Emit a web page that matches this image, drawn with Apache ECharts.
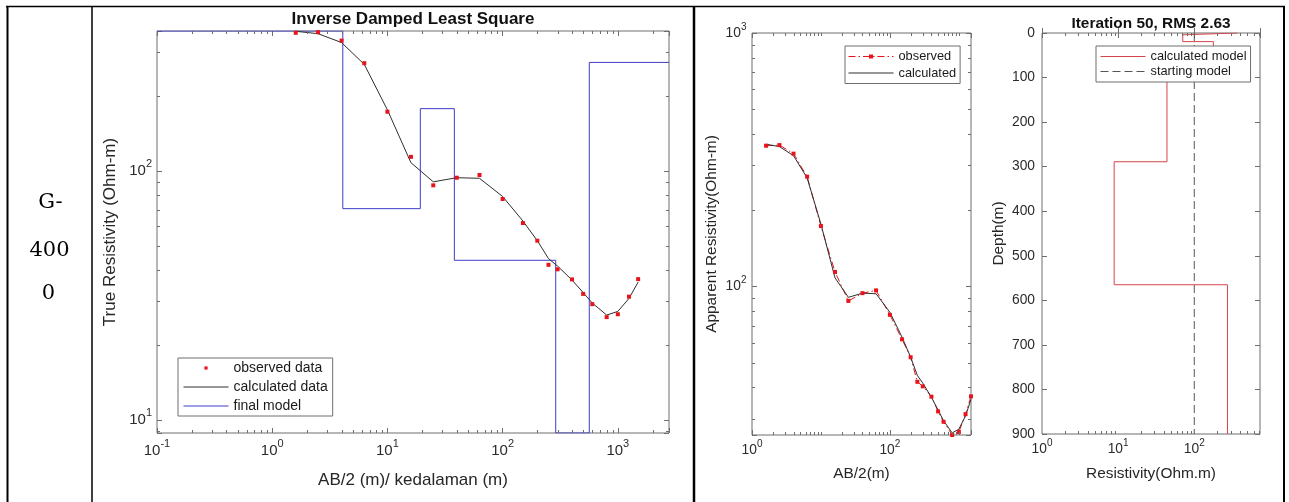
<!DOCTYPE html>
<html>
<head>
<meta charset="utf-8">
<title>G-4000</title>
<script src="https://cdn.jsdelivr.net/npm/echarts@6/dist/echarts.min.js"></script>
<style>html,body{margin:0;padding:0;background:#fff;}</style>
</head>
<body>
<div id="main" style="width:1289px;height:502px;"></div>
<script>
// sounding data
var ab2 = [1.6, 2.5, 4, 6.3, 10, 16, 25, 40, 63, 100, 150, 200, 250, 300, 400, 500, 600, 800, 1000, 1250, 1500];
var rhoObs = [359, 361, 334, 271, 173, 114, 87.6, 94, 96.4, 77.2, 61.8, 52.5, 42, 40.3, 36.7, 32.1, 29.2, 25.9, 26.6, 31.3, 36.8];
var rhoCalc = [364, 356, 328, 268, 176, 108, 90.5, 94, 93.5, 79, 63, 52.5, 44.5, 41.5, 36.5, 32.5, 29.5, 26.4, 27.3, 30.8, 35.8];

// final layered model
var layerRho = [365, 70.6, 178, 43.8, 8.87, 273];
var layerBottom = [4.1, 19.3, 38.1, 289, 565];
var startRho = 100;

// axis ranges and labelled ticks
var c1X = [0.1, 2780], c1Y = [8.87, 365];
var c2X = [1, 1500], c2Y = [25.9, 1000];
var c3X = [1, 730], c3Y = [0, 900];
var c1XTicks = [0.1, 1, 10, 100, 1000], c1YTicks = [10, 100];
var c2XTicks = [1, 100], c2YTicks = [100, 1000];
var c3XTicks = [1, 10, 100];

var FONT = "'Liberation Sans', Arial, Helvetica, sans-serif";
var AXIS = '#6e6e6e';
var LABEL = '#2b2b2b';
var RED = '#e8141c';
var BLUE = '#3c3cc8';
var BLACK = '#2e2e2e';

function zip(a, b) {
    var out = [];
    for (var i = 0; i < a.length; i++) out.push([a[i], b[i]]);
    return out;
}

function isOneOf(v, list) {
    for (var i = 0; i < list.length; i++) {
        if (Math.abs(v / list[i] - 1) < 1e-6) return true;
    }
    return false;
}

// 2..9 x 10^k marks between the labelled decades
function minorTicks(range, majors) {
    var out = [];
    for (var k = Math.floor(Math.log10(range[0])); k <= Math.ceil(Math.log10(range[1])); k++) {
        for (var m = 1; m <= 9; m++) {
            var v = m * Math.pow(10, k);
            if (v > range[0] * 1.0001 && v < range[1] * 0.9999 && !isOneOf(v, majors)) out.push(v);
        }
    }
    return out;
}

function powFormatter(list) {
    return function (v) {
        if (!isOneOf(v, list)) return '';
        return '{b|10}{s|' + Math.round(Math.log10(v)) + '}';
    };
}

function powRich(fs, ss, lift) {
    return {
        b: {fontSize: fs, lineHeight: fs, verticalAlign: 'bottom', color: LABEL, fontFamily: FONT},
        s: {fontSize: ss, lineHeight: ss, padding: [0, 0, lift, 0], verticalAlign: 'bottom', color: LABEL, fontFamily: FONT}
    };
}

function axis(o) {
    var a = {
        gridIndex: o.grid,
        type: o.type,
        position: o.pos,
        min: o.range[0],
        max: o.range[1],
        inverse: !!o.inverse,
        axisLine: {show: false},
        axisTick: {show: true, inside: true, length: 5, lineStyle: {color: AXIS, width: 1}},
        splitLine: {show: false},
        axisLabel: {show: false}
    };
    if (o.interval) a.interval = o.interval;
    if (o.labels) {
        a.axisLabel = {
            show: true,
            margin: o.margin,
            formatter: o.labels === 'plain' ? '{value}' : powFormatter(o.labels),
            rich: o.labels === 'plain' ? undefined : powRich(o.fs, o.ss, o.lift),
            fontSize: o.fs,
            color: LABEL,
            fontFamily: FONT,
            showMinLabel: true,
            showMaxLabel: true
        };
    }
    if (o.name) {
        a.name = o.name;
        a.nameLocation = 'middle';
        a.nameGap = o.nameGap;
        a.nameTextStyle = {fontSize: o.nameSize, color: '#262626', fontFamily: FONT};
    }
    return a;
}

// short inside marks for the minor ticks, placed through the axes
function minorSeries(xi, yi, xTicks, yTicks, xRef, yRef) {
    var data = [];
    xTicks.forEach(function (v) { data.push([v, yRef, 0]); });
    yTicks.forEach(function (v) { data.push([xRef, v, 1]); });
    return {
        type: 'custom',
        xAxisIndex: xi,
        yAxisIndex: yi,
        silent: true,
        z: 3,
        data: data,
        renderItem: function (params, api) {
            var cs = params.coordSys;
            var p = api.coord([api.value(0), api.value(1)]);
            var st = {stroke: AXIS, lineWidth: 1};
            var len = 3;
            var s1, s2;
            if (api.value(2) === 0) {
                var x = Math.round(p[0]) + 0.5;
                s1 = {x1: x, y1: cs.y + cs.height, x2: x, y2: cs.y + cs.height - len};
                s2 = {x1: x, y1: cs.y, x2: x, y2: cs.y + len};
            } else {
                var y = Math.round(p[1]) + 0.5;
                s1 = {x1: cs.x, y1: y, x2: cs.x + len, y2: y};
                s2 = {x1: cs.x + cs.width, y1: y, x2: cs.x + cs.width - len, y2: y};
            }
            return {type: 'group', children: [
                {type: 'line', shape: s1, style: st},
                {type: 'line', shape: s2, style: st}
            ]};
        }
    };
}

// model as stairs
var model1 = [], model3 = [];
for (var i = 0; i < layerRho.length; i++) {
    var top1 = i === 0 ? c1X[0] : layerBottom[i - 1];
    var bot1 = i < layerBottom.length ? layerBottom[i] : c1X[1];
    model1.push([top1, layerRho[i]], [bot1, layerRho[i]]);
    var top3 = i === 0 ? c3Y[0] : layerBottom[i - 1];
    var bot3 = i < layerBottom.length ? layerBottom[i] : c3Y[1];
    model3.push([layerRho[i], top3], [layerRho[i], bot3]);
}

// legend entries that are plain lines: hide the marker in the middle
function lineOnly(name) {
    return {name: name, itemStyle: {opacity: 0}};
}

var myChart = echarts.init(document.getElementById('main'));

var legendBase = {
    orient: 'vertical',
    itemWidth: 45,
    borderColor: AXIS,
    borderWidth: 1,
    backgroundColor: '#fff',
    selectedMode: false,
    lineStyle: {width: 'inherit'},
    textStyle: {color: '#1a1a1a', fontFamily: FONT}
};

var option = {
    animation: false,
    backgroundColor: '#fff',
    title: [
        {text: 'Inverse Damped Least Square', left: 413, top: 10.5, textAlign: 'center', padding: 0,
            textStyle: {fontSize: 17, fontWeight: 'bold', color: '#111', fontFamily: FONT}},
        {text: 'Iteration 50, RMS 2.63', left: 1151, top: 16, textAlign: 'center', padding: 0,
            textStyle: {fontSize: 15.4, fontWeight: 'bold', color: '#111', fontFamily: FONT}}
    ],
    grid: [
        {left: 157, top: 31, width: 512, height: 402, show: true, borderColor: AXIS, borderWidth: 1},
        {left: 752, top: 33, width: 219, height: 402, show: true, borderColor: AXIS, borderWidth: 1},
        {left: 1042, top: 33, width: 218, height: 401, show: true, borderColor: AXIS, borderWidth: 1}
    ],
    legend: [
        Object.assign({}, legendBase, {
            data: ['observed data', lineOnly('calculated data'), lineOnly('final model')],
            left: 178, top: 358, padding: [3, 5, 3, 5], itemHeight: 4, itemGap: 5,
            textStyle: {color: '#1a1a1a', fontFamily: FONT, fontSize: 14}
        }),
        Object.assign({}, legendBase, {
            data: ['observed', lineOnly('calculated')],
            left: 845, top: 46, padding: [4, 4, 4, 3], itemHeight: 5, itemGap: 3.5,
            textStyle: {color: '#1a1a1a', fontFamily: FONT, fontSize: 12.8}
        }),
        Object.assign({}, legendBase, {
            data: [lineOnly('calculated model'), lineOnly('starting model')],
            left: 1096, top: 46, padding: [4, 4, 4, 4], itemHeight: 5, itemGap: 2,
            textStyle: {color: '#1a1a1a', fontFamily: FONT, fontSize: 12.8}
        })
    ],
    xAxis: [
        axis({grid: 0, type: 'log', pos: 'bottom', range: c1X, labels: c1XTicks, fs: 15, ss: 11, lift: 9, margin: 10,
            name: 'AB/2 (m)/ kedalaman (m)', nameGap: 38.5, nameSize: 17}),
        axis({grid: 0, type: 'log', pos: 'top', range: c1X}),
        axis({grid: 1, type: 'log', pos: 'bottom', range: c2X, interval: 2, labels: c2XTicks, fs: 13.8, ss: 10, lift: 8, margin: 8,
            name: 'AB/2(m)', nameGap: 31.3, nameSize: 15.4}),
        axis({grid: 1, type: 'log', pos: 'top', range: c2X, interval: 2}),
        axis({grid: 2, type: 'log', pos: 'bottom', range: c3X, labels: c3XTicks, fs: 13.8, ss: 10, lift: 8, margin: 8,
            name: 'Resistivity(Ohm.m)', nameGap: 32.3, nameSize: 15.4}),
        axis({grid: 2, type: 'log', pos: 'top', range: c3X})
    ],
    yAxis: [
        axis({grid: 0, type: 'log', pos: 'left', range: c1Y, labels: c1YTicks, fs: 15, ss: 11, lift: 9, margin: 5,
            name: 'True Resistivity (Ohm-m)', nameGap: 38.5, nameSize: 17}),
        axis({grid: 0, type: 'log', pos: 'right', range: c1Y}),
        axis({grid: 1, type: 'log', pos: 'left', range: c2Y, labels: c2YTicks, fs: 13.8, ss: 10, lift: 8, margin: 5.5,
            name: 'Apparent Resistivity(Ohm-m)', nameGap: 32.3, nameSize: 15.4}),
        axis({grid: 1, type: 'log', pos: 'right', range: c2Y}),
        axis({grid: 2, type: 'value', pos: 'left', range: c3Y, inverse: true, interval: 100, labels: 'plain', fs: 13.8, margin: 7,
            name: 'Depth(m)', nameGap: 35.3, nameSize: 15.4}),
        axis({grid: 2, type: 'value', pos: 'right', range: c3Y, inverse: true, interval: 100})
    ],
    series: [
        {name: 'final model', type: 'line', xAxisIndex: 0, yAxisIndex: 0, data: model1, symbol: 'none',
            lineStyle: {color: BLUE, width: 1}, itemStyle: {color: BLUE}, z: 2},
        {name: 'calculated data', type: 'line', xAxisIndex: 0, yAxisIndex: 0, data: zip(ab2, rhoCalc), symbol: 'none',
            lineStyle: {color: BLACK, width: 1}, itemStyle: {color: BLACK}, z: 2},
        {name: 'observed data', type: 'line', xAxisIndex: 0, yAxisIndex: 0, data: zip(ab2, rhoObs),
            symbol: 'rect', symbolSize: 4, lineStyle: {width: 0}, itemStyle: {color: RED}, z: 4},

        {name: 'observed', type: 'line', xAxisIndex: 2, yAxisIndex: 2, data: zip(ab2, rhoObs),
            symbol: 'rect', symbolSize: 4, lineStyle: {color: RED, width: 1, type: [7, 3, 1.5, 3]}, itemStyle: {color: RED}, z: 2},
        {name: 'calculated', type: 'line', xAxisIndex: 2, yAxisIndex: 2, data: zip(ab2, rhoCalc), symbol: 'none',
            lineStyle: {color: BLACK, width: 1}, itemStyle: {color: BLACK}, z: 2},

        {name: 'calculated model', type: 'line', xAxisIndex: 4, yAxisIndex: 4, data: model3, symbol: 'none',
            lineStyle: {color: '#d6454b', width: 1}, itemStyle: {color: '#d6454b'}, z: 2},
        {name: 'starting model', type: 'line', xAxisIndex: 4, yAxisIndex: 4, data: [[startRho, c3Y[0]], [startRho, c3Y[1]]],
            symbol: 'none', lineStyle: {color: '#555', width: 1, type: [8, 4]}, itemStyle: {color: '#555'}, z: 2},

        minorSeries(0, 0, minorTicks(c1X, c1XTicks), minorTicks(c1Y, c1YTicks), c1X[0], c1Y[0]),
        minorSeries(2, 2, minorTicks(c2X, c2XTicks), minorTicks(c2Y, c2YTicks), c2X[0], c2Y[0]),
        minorSeries(4, 4, minorTicks(c3X, c3XTicks), [], c3X[0], c3Y[0])
    ],
    graphic: [
        {type: 'line', shape: {x1: 6, y1: 6.5, x2: 1285, y2: 6.5}, style: {stroke: '#000', lineWidth: 1.5}},
        {type: 'line', shape: {x1: 7.5, y1: 6, x2: 7.5, y2: 502}, style: {stroke: '#000', lineWidth: 2}},
        {type: 'line', shape: {x1: 92, y1: 6, x2: 92, y2: 502}, style: {stroke: '#000', lineWidth: 1.5}},
        {type: 'line', shape: {x1: 694, y1: 6, x2: 694, y2: 502}, style: {stroke: '#000', lineWidth: 2.5}},
        {type: 'line', shape: {x1: 1284, y1: 6, x2: 1284, y2: 502}, style: {stroke: '#000', lineWidth: 2}},
        {type: 'text', x: 50.5, y: 202.5, style: {text: 'G-', font: "21px 'DejaVu Serif'", align: 'center', verticalAlign: 'middle', fill: '#000'}},
        {type: 'text', x: 49.5, y: 250.5, style: {text: '400', font: "21px 'DejaVu Serif'", align: 'center', verticalAlign: 'middle', fill: '#000'}},
        {type: 'text', x: 48.5, y: 293.5, style: {text: '0', font: "21px 'DejaVu Serif'", align: 'center', verticalAlign: 'middle', fill: '#000'}}
    ]
};

myChart.setOption(option);
</script>
</body>
</html>
